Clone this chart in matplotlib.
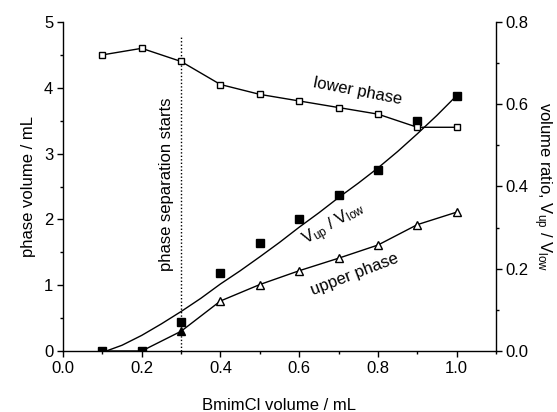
import matplotlib
matplotlib.use("Agg")
import matplotlib.pyplot as plt
from matplotlib.ticker import MultipleLocator

plt.rcParams['font.family'] = ['Liberation Sans', 'DejaVu Sans']
plt.rcParams['mathtext.fontset'] = 'custom'
plt.rcParams['mathtext.rm'] = 'Liberation Sans'
plt.rcParams['mathtext.it'] = 'Liberation Sans:italic'

# data
bmim = [0.1, 0.2, 0.3, 0.4, 0.5, 0.6, 0.7, 0.8, 0.9, 1.0]
lower_phase = [4.5, 4.6, 4.4, 4.05, 3.9, 3.8, 3.7, 3.6, 3.4, 3.4]
upper_phase = [0.0, 0.0, 0.3, 0.76, 1.01, 1.22, 1.41, 1.61, 1.92, 2.11]
ratio = [0.0, 0.0, 0.07, 0.19, 0.262, 0.32, 0.379, 0.44, 0.56, 0.62]
n_filled_upper = 3  # first points drawn with filled triangles

fit_x = [0.11, 0.15, 0.2, 0.25, 0.3, 0.35, 0.4, 0.45, 0.5, 0.55, 0.6, 0.65,
         0.7, 0.75, 0.8, 0.85, 0.9, 0.95, 1.0]
fit_ratio = [0.0, 0.014, 0.038, 0.066, 0.096, 0.128, 0.163, 0.195, 0.229,
             0.264, 0.301, 0.336, 0.373, 0.408, 0.445, 0.485, 0.528, 0.573, 0.621]

sep_x = 0.3

fig = plt.figure(figsize=(5.57, 4.12), dpi=100)
ax = fig.add_axes([63/557, 1-351/412, (496-63)/557, (351-22)/412])
ax2 = ax.twinx()
ax.set_zorder(ax2.get_zorder() + 1)
ax.patch.set_visible(False)

lw = 1.0
# ratio on right axis
ax2.plot(fit_x, fit_ratio, color='black', lw=lw, zorder=2)
ax2.plot(bmim, ratio, ls='none', marker='s', ms=5.2, mfc='black', mec='black', zorder=3)

# lower phase
ax.plot(bmim, lower_phase, color='black', lw=lw, marker='s', ms=4.6,
        mfc='white', mec='black', mew=1.0, zorder=4)
# upper phase
ax.plot(bmim, upper_phase, color='black', lw=lw, zorder=3)
ax.plot(bmim[:n_filled_upper], upper_phase[:n_filled_upper], ls='none', marker='^',
        ms=6.2, mfc='black', mec='black', zorder=4)
ax.plot(bmim[n_filled_upper:], upper_phase[n_filled_upper:], ls='none', marker='^',
        ms=6.2, mfc='white', mec='black', mew=1.0, zorder=4)

# phase separation line
ax.plot([sep_x, sep_x], [0, 4.8], color='black', lw=1.0, ls=(0, (1, 1.5)), zorder=1)

ax.set_xlim(0, 1.1)
ax.set_ylim(0, 5)
ax2.set_ylim(0, 0.8)

ax.xaxis.set_major_locator(MultipleLocator(0.2))
ax.xaxis.set_minor_locator(MultipleLocator(0.1))
ax.yaxis.set_major_locator(MultipleLocator(1))
ax.yaxis.set_minor_locator(MultipleLocator(0.5))
ax2.yaxis.set_major_locator(MultipleLocator(0.2))
ax2.yaxis.set_minor_locator(MultipleLocator(0.1))
ax.xaxis.set_major_formatter(plt.FormatStrFormatter('%.1f'))
ax.yaxis.set_major_formatter(plt.FormatStrFormatter('%d'))
ax2.yaxis.set_major_formatter(plt.FormatStrFormatter('%.1f'))

for a in (ax, ax2):
    a.spines['top'].set_visible(False)
    for s in a.spines.values():
        s.set_linewidth(1.0)
ax.spines['right'].set_visible(False)
ax2.spines['left'].set_visible(False)
ax2.spines['bottom'].set_visible(False)

ax.tick_params(which='major', length=4, width=1.0, labelsize=12, pad=3, direction='out')
ax.tick_params(which='minor', length=2.5, width=1.0, direction='out')
ax2.tick_params(which='major', length=4, width=1.0, labelsize=12, pad=3, direction='out')
ax2.tick_params(which='minor', length=2.5, width=1.0, direction='out')

ax.set_xlabel('BmimCl volume / mL', fontsize=12, labelpad=16)
ax.set_ylabel('phase volume / mL', fontsize=12, labelpad=6)
ax2.set_ylabel(r'volume ratio, $\mathregular{V_{up}\ /\ V_{low}}$', fontsize=12,
               rotation=-90, labelpad=18)

ax.text(0.262, 2.53, 'phase separation starts', rotation=90, fontsize=12,
        ha='center', va='center')
ax.text(0.748, 3.95, 'lower phase', rotation=-11, fontsize=12,
        ha='center', va='center')
ax.text(0.74, 1.16, 'upper phase', rotation=21, fontsize=12,
        ha='center', va='center')
ax.text(0.69, 1.92, r'$\mathregular{V_{up}\ /\ V_{low}}$', rotation=30, fontsize=12,
        ha='center', va='center')

fig.savefig('out.png', dpi=100)
